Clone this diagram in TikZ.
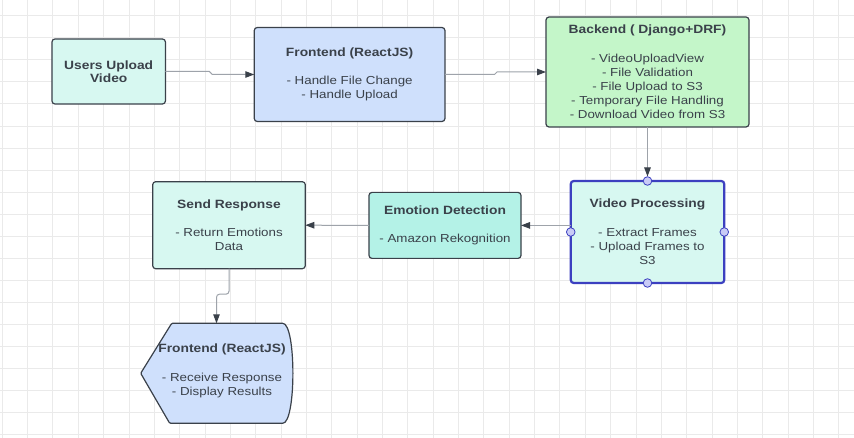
\documentclass[tikz,border=0pt]{standalone}
\usepackage{fontspec}
\setmainfont{Liberation Sans}[FakeStretch=1.15]
\usepackage{tikz}
\usetikzlibrary{arrows.meta,positioning,calc}

\definecolor{txtgray}{HTML}{3A414A}
\definecolor{linegray}{HTML}{9EA3AA}
\definecolor{mint}{HTML}{D7F8F1}
\definecolor{emoteal}{HTML}{B4F2E7}
\definecolor{feblue}{HTML}{CFE0FC}
\definecolor{begreen}{HTML}{C4F6C9}
\definecolor{selblue}{HTML}{3C40C0}
\definecolor{handlefill}{HTML}{C9CBF6}
\definecolor{gridc}{HTML}{EAEAEA}

\newcommand{\boxhead}[1]{{\fontsize{12}{14.2}\selectfont\bfseries #1}}

\begin{document}
\begin{tikzpicture}[x=1pt,y=-1pt,
    box/.style={draw=txtgray, line width=1.2pt, rounded corners=3pt, inner sep=0pt, outer sep=0pt,
      align=center, text=txtgray, font=\fontsize{11.6}{14.2}\selectfont},
    conn/.style={draw=linegray, line width=1pt, -{Triangle[length=9pt,width=6.5pt,color=txtgray]}},
    gridline/.style={gridc, line width=0.8pt}]
  \useasboundingbox (0,0) rectangle (854,438);

  % Background grid
  \fill[white] (0,0) rectangle (854,438);
  \foreach \i in {0,...,33}
    \draw[gridline] ({2.15+25.35*\i},0) -- ({2.15+25.35*\i},438);
  \foreach \j in {0,...,19}
    \draw[gridline] (0,{15.7+22.05*\j}) -- (854,{15.7+22.05*\j});

  % Upload row
  \node[box, fill=mint, minimum width=113.5, minimum height=65, font=\fontsize{12}{13.3}\selectfont\bfseries]
    (users) at (108.7,71.5) {Users Upload\\Video};
  \node[box, fill=feblue, minimum width=190.7, minimum height=94] (front) at (349.6,74.5)
    {\boxhead{Frontend (ReactJS)}\\[14.2pt]- Handle File Change\\- Handle Upload};
  \node[box, fill=begreen, minimum width=203, minimum height=110] (back) at (647.5,72)
    {\boxhead{Backend ( Django+DRF)}\\[14.2pt]- VideoUploadView\\- File Validation\\- File Upload to S3\\- Temporary File Handling\\- Download Video from S3};

  % Processing row
  \node[box, fill=mint, draw=selblue, line width=2.2pt, minimum width=153.5, minimum height=102] (vp) at (647.5,232)
    {\boxhead{Video Processing}\\[14.2pt]- Extract Frames\\- Upload Frames to\\S3};
  \node[box, fill=emoteal, minimum width=152, minimum height=66] (emo) at (445,225.4)
    {\boxhead{Emotion Detection}\\[14.2pt]- Amazon Rekognition};
  \node[box, fill=mint, minimum width=152.6, minimum height=87] (send) at (229,225.2)
    {\boxhead{Send Response}\\[14.2pt]- Return Emotions\\Data};

  % Display shape
  \node[minimum width=152.6, minimum height=100, inner sep=0pt, outer sep=0pt] (fr2) at (217,373.3) {};
  \draw[draw=txtgray, line width=1.2pt, fill=feblue, rounded corners=1pt] (fr2.west)
    -- ([xshift=31pt]fr2.north west) -- ([xshift=-11.6pt]fr2.north east)
    .. controls ([xshift=3pt]fr2.north east) and ([xshift=3pt]fr2.south east) .. ([xshift=-11.6pt]fr2.south east)
    -- ([xshift=29pt]fr2.south west) -- cycle;
  \node[align=center, text=txtgray, font=\fontsize{11.6}{14.2}\selectfont] (fr2txt) at ([xshift=5pt,yshift=2.3pt]fr2.center)
    {\boxhead{Frontend (ReactJS)}\\[14.2pt]- Receive Response\\- Display Results};

  % Connectors
  \draw[conn] (users.east) -- ++(44,0) -- ([xshift=-42pt]front.west) -- (front.west);
  \draw[conn] (front.east) -- ++(49.5,0) -- ([xshift=-49pt]back.west) -- (back.west);
  \draw[conn] (back.south) -- ([yshift=4.5pt]vp.north);
  \draw[conn] (vp.west |- emo.east) -- (emo.east);
  \draw[conn] (emo.west) -- (send.east);
  \draw[conn, rounded corners=3pt] (send.south) -- ++(0,25.5) -| ([xshift=-0.5pt]fr2.north);

  % Selection handles
  \foreach \a in {north,south,east,west}
    \draw[draw=selblue, fill=handlefill, line width=0.8pt] (vp.\a) circle (4.3pt);
\end{tikzpicture}
\end{document}
